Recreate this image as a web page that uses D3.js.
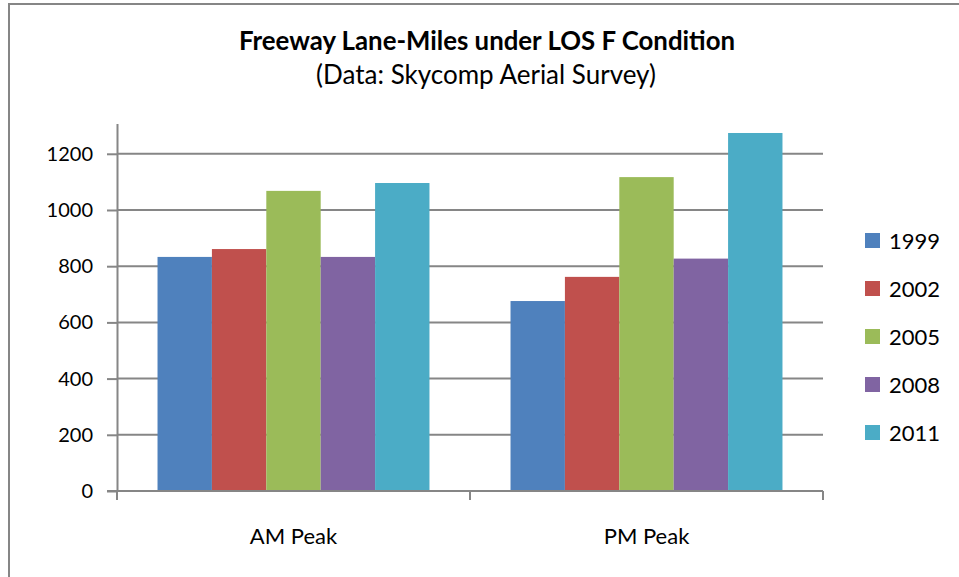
<!DOCTYPE html>
<html>
<head>
<meta charset="utf-8">
<script src="https://cdn.jsdelivr.net/npm/d3@7"></script>
<style>
  body { margin: 0; background: #fff; }
  svg text { font-family: Lato, "Open Sans", sans-serif; fill: #000; }
</style>
</head>
<body>
<svg width="959" height="577"></svg>
<script>
// data
const periods = ["AM Peak", "PM Peak"];
const years = ["1999", "2002", "2005", "2008", "2011"];
const values = {
  "1999": [833, 676],
  "2002": [861, 762],
  "2005": [1068, 1117],
  "2008": [833, 827],
  "2011": [1096, 1274]
};
const yTicks = [0, 200, 400, 600, 800, 1000, 1200];
const colors = ["#4F81BD", "#C0504D", "#9BBB59", "#8064A2", "#4BACC6"];

const svg = d3.select("svg");
const gridColor = "#868686";

// frame (right and bottom edges are cut off in the original)
svg.append("path")
  .attr("d", "M9,578 L9,4 L960,4")
  .attr("fill", "none")
  .attr("stroke", gridColor)
  .attr("stroke-width", 2);

// titles
svg.append("text")
  .attr("x", 487).attr("y", 50)
  .attr("text-anchor", "middle")
  .attr("font-size", 25.8).attr("font-weight", "bold")
  .text("Freeway Lane-Miles under LOS F Condition");
svg.append("text")
  .attr("x", 486).attr("y", 84)
  .attr("text-anchor", "middle")
  .attr("font-size", 26)
  .text("(Data: Skycomp Aerial Survey)");

const plotLeft = 117, plotRight = 823, plotTop = 124, plotBottom = 491;

const x0 = d3.scaleBand().domain(periods).range([plotLeft, plotRight]);
const x1 = d3.scaleBand().domain(years)
  .range([0, x0.bandwidth()])
  .paddingOuter(0.745);
const y = d3.scaleLinear().domain([0, 1306]).range([plotBottom, plotTop]);

// gridlines
svg.append("g").selectAll("line")
  .data(yTicks.filter(d => d > 0))
  .join("line")
  .attr("x1", plotLeft).attr("x2", plotRight)
  .attr("y1", d => y(d)).attr("y2", d => y(d))
  .attr("stroke", gridColor).attr("stroke-width", 2);

// bars
svg.append("g").selectAll("g")
  .data(periods)
  .join("g")
  .attr("transform", d => `translate(${x0(d)},0)`)
  .selectAll("rect")
  .data((p, i) => years.map((yr, k) => ({ yr, k, v: values[yr][i] })))
  .join("rect")
  .attr("x", d => x1(d.yr))
  .attr("width", x1.bandwidth())
  .attr("y", d => y(d.v))
  .attr("height", d => y(0) - y(d.v))
  .attr("fill", d => colors[d.k]);

// y axis
const yAxis = svg.append("g")
  .attr("transform", `translate(${plotLeft},0)`)
  .call(d3.axisLeft(y).tickValues(yTicks).tickSize(10).tickPadding(14).tickFormat(d3.format("d")));
yAxis.select(".domain").attr("d", `M0.5,${plotTop}V${plotBottom}`).attr("stroke", gridColor).attr("stroke-width", 2);
yAxis.selectAll(".tick line").attr("stroke", gridColor).attr("stroke-width", 2);
yAxis.selectAll("text").attr("font-size", 20).attr("font-family", "Lato, sans-serif").attr("fill", "#000");

// x axis
const xAxis = svg.append("g")
  .attr("transform", `translate(0,${plotBottom})`);
xAxis.append("line")
  .attr("x1", plotLeft - 10).attr("x2", plotRight)
  .attr("stroke", gridColor).attr("stroke-width", 2);
xAxis.selectAll(".xtick")
  .data([plotLeft, x0("PM Peak"), plotRight])
  .join("line")
  .attr("class", "xtick")
  .attr("x1", d => d).attr("x2", d => d)
  .attr("y1", 0).attr("y2", 9)
  .attr("stroke", gridColor).attr("stroke-width", 2);
xAxis.selectAll(".xlabel")
  .data(periods)
  .join("text")
  .attr("class", "xlabel")
  .attr("x", d => x0(d) + x0.bandwidth() / 2)
  .attr("y", 53)
  .attr("text-anchor", "middle")
  .attr("font-size", 22)
  .text(d => d);

// legend
const legend = svg.append("g").selectAll("g")
  .data(years)
  .join("g")
  .attr("transform", (d, i) => `translate(865,${241 + i * 48})`);
legend.append("rect")
  .attr("x", 0).attr("y", -8)
  .attr("width", 15).attr("height", 15)
  .attr("fill", (d, i) => colors[i]);
legend.append("text")
  .attr("x", 24).attr("y", 8)
  .attr("font-size", 22)
  .text(d => d);
</script>
</body>
</html>
